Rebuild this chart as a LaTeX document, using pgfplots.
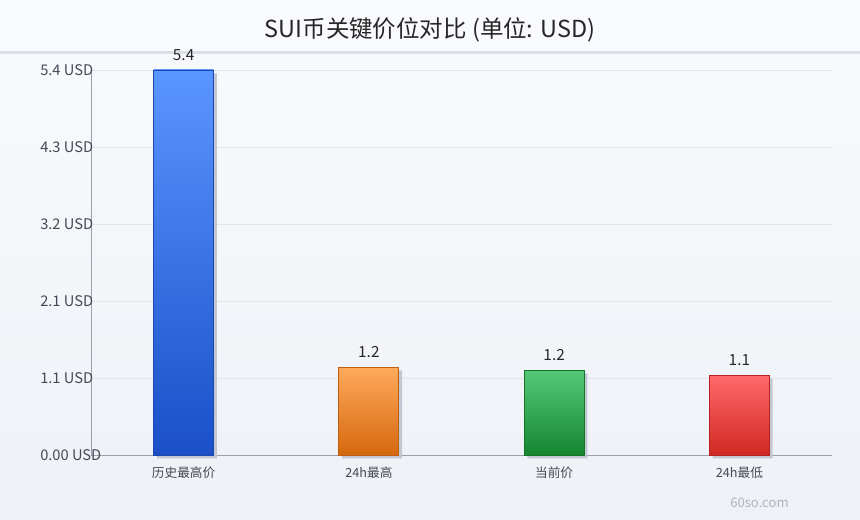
\documentclass[border=0pt]{standalone}
\usepackage{fontspec}
\setmainfont{Noto Sans CJK SC}
\usepackage{pgfplots}
\pgfplotsset{compat=1.18}

\definecolor{bgtop}{HTML}{F9FAFD}
\definecolor{bgbot}{HTML}{EEF1F6}
\definecolor{sepline}{HTML}{DCDFE7}
\definecolor{gridc}{HTML}{E1E5EC}
\definecolor{axisc}{HTML}{9AA0AD}
\definecolor{tickc}{HTML}{444A55}
\definecolor{shadowc}{HTML}{C3C7D1}
\definecolor{blueT}{HTML}{5A96FF}
\definecolor{blueB}{HTML}{1A4FC8}
\definecolor{blueD}{HTML}{1C46B0}
\definecolor{orangeT}{HTML}{FFAA5C}
\definecolor{orangeB}{HTML}{D5680E}
\definecolor{orangeD}{HTML}{BE5E10}
\definecolor{greenT}{HTML}{55C878}
\definecolor{greenB}{HTML}{168530}
\definecolor{greenD}{HTML}{13742A}
\definecolor{redT}{HTML}{FF6A6A}
\definecolor{redB}{HTML}{D02823}
\definecolor{redD}{HTML}{B52020}

\begin{document}
\begin{tikzpicture}
% background, 860x520 px = 645x390 pt
\shade[top color=bgtop, bottom color=bgbot] (0,0) rectangle (645pt,390pt);
\useasboundingbox (0,0) rectangle (645pt,390pt);
\fill[bgtop] (0,350pt) rectangle (645pt,390pt);
\draw[sepline, line width=2.25pt] (0,350.25pt) -- (645pt,350.25pt);
\node[font=\fontsize{17.6}{20}\selectfont, text=black!85] at (322.5pt,367.3pt) {SUI币关键价位对比 (单位: USD)};
\node[font=\fontsize{9.8}{11}\selectfont, text=axisc!80] at (569.6pt,12.75pt) {60so.com};

\begin{axis}[
    at={(68.25pt,48.75pt)}, anchor=south west,
    scale only axis,
    width=555.75pt, height=288.75pt,
    xmin=-0.5, xmax=3.5,
    ymin=0, ymax=5.4,
    clip=false,
    axis x line*=bottom, axis y line*=left,
    axis line style={axisc, line width=0.6pt, -},
    major tick length=0pt,
    ymajorgrids, grid style={gridc, line width=0.6pt},
    xtick={0,1,2,3},
    xticklabels={历史最高价, 24h最高, 当前价, 24h最低},
    ytick={0,1.08,2.16,3.24,4.32,5.4},
    yticklabels={0.00 USD, 1.1 USD, 2.1 USD, 3.2 USD, 4.3 USD, 5.4 USD},
    xticklabel style={font=\fontsize{9.5}{11}\selectfont, text=tickc, yshift=-5.5pt},
    yticklabel style={font=\fontsize{11}{13}\selectfont, text=tickc, anchor=west, inner sep=0pt, xshift=-38.25pt},
    /pgf/number format/assume math mode=true,
    ybar, bar width=45pt, bar shift=0pt,
    nodes near coords,
    every node near coord/.append style={font=\fontsize{11.5}{13}\selectfont, text=black!85,
        /pgf/number format/fixed, /pgf/number format/precision=1, yshift=3.5pt},
]
% shadows
\addplot[fill=shadowc, draw=none, xshift=2.5pt, yshift=-2.5pt, nodes near coords={}] coordinates {(0,5.4) (1,1.234) (2,1.19) (3,1.12)};
% bars
\addplot[top color=blueT, bottom color=blueB, draw=blueD, line width=0.6pt] coordinates {(0,5.4)};
\addplot[top color=orangeT, bottom color=orangeB, draw=orangeD, line width=0.6pt] coordinates {(1,1.234)};
\addplot[top color=greenT, bottom color=greenB, draw=greenD, line width=0.6pt] coordinates {(2,1.19)};
\addplot[top color=redT, bottom color=redB, draw=redD, line width=0.6pt] coordinates {(3,1.12)};
\end{axis}
\end{tikzpicture}
\end{document}
